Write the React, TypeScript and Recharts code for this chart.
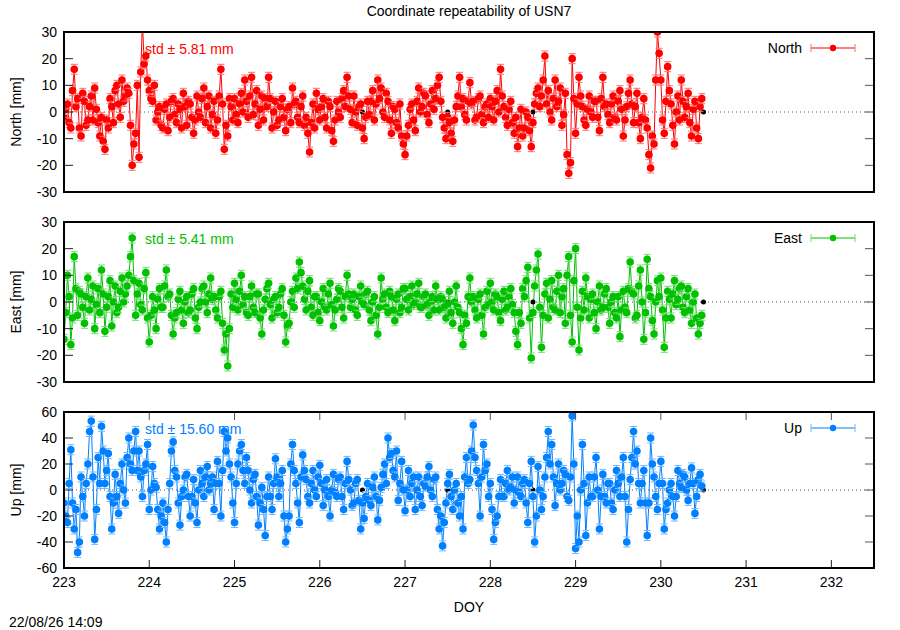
import React from 'react';
import { LineChart, Line, XAxis, YAxis, ReferenceLine } from 'recharts';

const FONT = '"Liberation Sans", Arial, Helvetica, sans-serif';
const PLOT_LEFT = 64;
const PLOT_RIGHT = 874;

// sampling of the solution epochs (day of year)
const START_DOY = 223;
const EPOCH_STEP = 0.02;

// one row per day of year, mm
const northValues = [
  -2, 1, 3, -4, -6, 8, 16, 2, 5, -6, -9, 7, 4, -5, -3, 2, 6, -3, 9, 1, -4, -9, -2, -11, -14, -3, -6, 5, 2, -4, 8, 10, 3, -2, 12, 4, 6, 9, 7, -5, -20, -12, -8, 10, -17, 15, 34, 18, 21, 12,
  8, 5, 4, 10, -3, 0, 2, -5, -6, 1, 3, -7, -2, 4, 5, -1, -4, 3, 1, -6, 7, 2, -5, 4, 3, -2, -8, -3, 6, 0, -2, 5, 9, -4, 2, 6, -6, -1, 4, -8, -3, 6, 16, 3, -14, -5, -9, 5, 2, -3,
  5, -1, -4, 3, 7, 0, 12, 4, -2, 6, 13, -1, 3, 8, -5, 1, 6, -3, 5, 2, 13, 5, -6, 0, 4, -5, -3, 2, 5, -2, -7, 1, 2, -4, 9, 3, 4, -2, -4, 2, 6, -5, -2, -8, -15, -4, 3, -6, 7, 1,
  -3, 2, 5, -2, -6, 4, 2, -7, -11, -3, 4, 0, -2, 5, 8, 2, 13, 6, 1, -4, 6, 0, -5, 2, 3, -6, -10, -2, 4, -1, 4, 8, -3, 3, 12, 5, 9, 0, -2, 7, 4, -3, -8, 2, 1, -4, -6, 3, -9, -12,
  -16, -9, -5, 1, 3, -3, -7, 4, 9, 0, 2, 7, 6, -1, -4, 3, 8, 1, 5, 10, 13, 4, -2, -6, -10, -2, -4, -8, -11, -3, 2, 6, 13, 2, 5, -1, -3, 4, 11, 3, 4, -3, -2, 5, 6, -1, -4, 2, 3, -2,
  5, 2, -3, 4, 8, 0, 16, 6, 2, -2, -5, 1, 4, -4, -8, -2, -13, -6, 1, -9, -6, 0, -2, -7, -13, -4, 3, 7, 9, 2, 6, 12, 21, 3, 8, 0, -3, 5, 12, 2, 4, 9, -5, -1, 7, -16, -23, -19, 20, 5,
  -8, 3, 13, 6, 2, -3, -5, 1, 6, 0, -2, 4, 4, -2, -7, 5, 13, 2, 3, -1, -4, 3, 6, -2, -3, 4, 8, 1, -9, -3, 2, 7, 12, 3, -4, 2, 7, -4, -10, -2, 5, -3, -6, -16, -21, -9, -12, 12, 30, 22,
  12, -3, -8, 4, 17, 8, 3, -5, -12, 0, 6, -3, 12, 4, -2, 2, 7, -4, -9, 1, 4, -6, -10, 2, 5,
];

const eastValues = [
  -14, -4, 10, 2, -16, -6, 17, 5, -5, 4, 3, -2, -8, 2, 9, -3, 1, 6, -10, -1, 5, -4, 12, 3, -11, -2, 2, 8, -9, 0, 6, -4, -2, 4, 9, 0, 3, 6, 10, 17, 24, 8, -5, 3, 7, -1, -3, 5, 11, -6,
  -15, -5, 2, -3, -10, 1, 5, -2, -2, 6, 12, 2, 3, -5, -12, -6, -4, 1, 4, -3, -8, 0, 2, -4, -3, 3, 5, -6, -10, -2, 0, 5, 6, 0, -4, 3, 9, 1, 2, -3, -6, 2, 4, -8, -18, -12, -24, -10, 3, -2,
  7, 1, -3, 4, 10, -1, 2, -4, -5, 2, 6, -2, -4, 3, 3, -6, -12, -3, 1, 5, 7, -1, -6, 1, 2, -4, -2, 3, 5, -5, -15, -9, -8, 0, 4, -2, 9, 5, 15, 11, 6, 1, -3, 4, 8, -2, -5, 2, 2, -4,
  -7, 0, 5, -2, -3, 3, 7, -1, -9, -3, 1, 5, 4, -2, -6, 2, 10, 3, -2, 1, 3, -3, -5, 2, 6, 0, -1, 3, 4, -3, -7, 0, 2, -5, -12, -2, 9, 1, 3, -2, -4, 4, 2, -3, -7, 1, 3, -4, -2, 5,
  5, 1, -3, 2, 6, -1, 0, 3, 7, -2, -2, 2, 3, -1, -5, 0, 2, -3, 6, 1, -3, 2, 1, -2, -6, -1, 4, -4, -8, 0, 6, -2, -4, -10, -16, -5, -8, 2, 9, 0, 2, -3, -6, 1, 3, -5, -12, -2, 4, -1,
  7, 0, -3, 3, 2, -4, -7, 1, 4, -3, -2, 2, 5, -1, -4, -11, -16, -4, -8, 5, 2, 8, 13, -6, -21, -4, 6, 12, 18, -2, -17, -5, 3, 7, -6, 1, 8, -2, -3, 4, 10, -4, 2, 5, -8, 10, 17, -5, -15, 8,
  20, -2, -18, -6, 4, -3, 9, 2, -6, 1, 3, -4, -10, 0, 6, -3, -2, 3, 5, -2, -8, 0, 2, -4, -6, 2, -13, -3, 4, -2, -4, 5, 15, 4, 3, -6, -5, 6, 12, 0, -14, -4, 16, 5, 2, -7, -12, 0, 8, 2,
  9, -3, -17, -6, 4, 1, -6, 3, 8, -1, 1, 5, 6, -2, -4, 2, 5, -3, -8, 0, 3, -6, -12, -8, -5,
];

const upValues = [
  -10, -20, -25, 5, 31, -10, -30, -15, -48, -40, 10, -5, -20, 5, 20, 45, 53, 10, -38, -15, 25, 5, 49, 30, 5, 15, 28, -5, -30, -10, 12, -5, -18, 5, 20, 0, -10, 25, 40, 20, 15, 30, 45, 15, 30, 10, -5, 15, 20, 35,
  -15, 0, 18, 5, 2, -15, -30, -20, -10, -25, -40, -15, 5, 30, 37, 15, 10, -10, -27, -5, 0, 10, 12, -5, -20, -5, 8, -10, -25, 0, 15, 5, -5, 10, 18, 0, 5, 10, -15, 5, 22, 5, -20, 15, 45, 30, 40, 20, 10, -10,
  -25, 5, 20, 30, 35, 15, 5, 25, 15, 0, -10, 8, 12, -5, -27, -10, 2, -15, -35, -5, 10, -5, -15, 5, 24, 10, -5, 5, 15, -20, -40, -30, -20, 20, 35, 15, 5, -10, -25, 10, 27, 15, 8, -5, -10, 5, 15, 0, -5, 10,
  19, 5, -12, 0, 8, -5, -20, 0, 12, -2, -5, 8, 10, -5, -15, 5, 22, 8, 0, -12, -10, 5, 8, -8, -30, -10, -22, -5, 5, -8, -12, 2, 10, -5, -23, -8, 2, 12, 20, 5, 40, 25, 28, 15, 10, 30, -8, 5, 22, 0,
  -16, 0, 15, -5, 5, 10, -15, 0, 10, -5, -12, 5, 3, 10, 18, 0, -5, 8, 10, -15, -30, -20, -43, -25, -10, 5, 12, -5, -15, 0, 5, -10, -20, -5, -30, 10, 25, 5, 8, 30, 50, 25, 15, 5, -20, 10, 35, 15, 20, -5,
  5, -15, -38, -25, -20, -5, 8, -5, -5, 5, 15, 0, 2, 10, -10, 0, 10, -2, -5, 5, 8, -10, -25, 5, 22, -5, -40, -20, 18, 0, -15, -5, 10, 25, 45, 20, 35, 10, -12, 5, 20, 0, 5, 15, 12, -5, -8, 10, 57, 20,
  -45, -20, -40, 0, 35, 5, -35, -10, 10, -5, -5, 10, 25, 0, -30, -5, 12, -5, -10, 5, 5, -10, -15, 0, 15, 5, -5, 10, 25, -5, -40, -15, 8, 25, 45, 20, 30, 5, -10, 5, 15, -10, -35, -10, 40, 20, 10, -5, -15, 5,
  22, 5, -30, -15, -10, 0, 5, -5, -20, -5, 15, 5, 2, 12, 10, 0, -8, 5, 17, 5, -18, -5, 8, 12, 3,
];

// reference (black) points that show through the series
const biasDays = [226.5, 227.5, 228.5, 230.5];
const biasValues = [0, 0, 0, 0];

const doyTicks = [223, 224, 225, 226, 227, 228, 229, 230, 231, 232];
const neTicks = [-30, -20, -10, 0, 10, 20, 30];
const upTicks = [-60, -40, -20, 0, 20, 40, 60];

const toRows = (values: number[]) =>
  values.map((v, i) => ({ doy: Math.round((START_DOY + i * EPOCH_STEP) * 100) / 100, v }));

const makeDot = (color: string, light: string) => (p: any) => {
  const { cx, cy, index } = p;
  if (cx == null || cy == null) return <g key={`n${index}`} />;
  return (
    <g key={`d${index}`}>
      <line x1={cx} x2={cx} y1={cy - 5} y2={cy + 5} stroke={light} />
      <line x1={cx - 3.5} x2={cx + 3.5} y1={cy - 5} y2={cy - 5} stroke={light} />
      <line x1={cx - 3.5} x2={cx + 3.5} y1={cy + 5} y2={cy + 5} stroke={light} />
      <circle cx={cx} cy={cy} r={3.8} fill={color} />
    </g>
  );
};

type PanelProps = {
  top: number;
  plotHeight: number;
  values: number[];
  color: string;
  light: string;
  name: string;
  yLabel: string;
  std: string;
  ticks: number[];
  showX?: boolean;
};

function Panel({ top, plotHeight, values, color, light, name, yLabel, std, ticks, showX }: PanelProps) {
  const rows = toRows(values);
  const bias = biasDays.map((d, i) => ({ doy: d, v: biasValues[i] }));
  const lo = ticks[0];
  const hi = ticks[ticks.length - 1];
  const plotTop = 32;
  const plotBottom = plotTop + plotHeight;
  const chartHeight = plotBottom + (showX ? 50 : 8);

  const yTick = (p: any) => {
    const v = p.payload.value;
    const edge = v === lo || v === hi;
    return (
      <g>
        <text x={57} y={p.y} textAnchor="end" dominantBaseline="central" fontSize={14} fill="#000">
          {v}
        </text>
        {!edge && <line x1={PLOT_LEFT} x2={PLOT_LEFT + 9} y1={p.y} y2={p.y} stroke="#222" />}
        {!edge && <line x1={PLOT_RIGHT - 9} x2={PLOT_RIGHT} y1={p.y} y2={p.y} stroke="#555" />}
      </g>
    );
  };

  const xTick = (p: any) => (
    <g>
      <line x1={p.x} x2={p.x} y1={plotBottom} y2={plotBottom - 8} stroke="#222" />
      <line x1={p.x} x2={p.x} y1={plotTop} y2={plotTop + 8} stroke="#555" />
      <text x={p.x} y={plotBottom + 14} textAnchor="middle" dominantBaseline="central" fontSize={14} fill="#000">
        {p.payload.value}
      </text>
    </g>
  );

  return (
    <div style={{ position: 'absolute', left: 0, top, width: 900, height: chartHeight }}>
      <LineChart width={900} height={chartHeight} margin={{ top: plotTop, right: 900 - PLOT_RIGHT, bottom: showX ? 0 : 8, left: 0 }}>
        <XAxis
          dataKey="doy"
          type="number"
          domain={[223, 232.5]}
          ticks={doyTicks}
          interval={0}
          allowDataOverflow
          hide={!showX}
          height={50}
          tickLine={false}
          axisLine={false}
          tickSize={0}
          tick={xTick}
          label={{ value: 'DOY', position: 'insideBottom', offset: 6, fill: '#000', fontSize: 14 }}
        />
        <YAxis
          type="number"
          domain={[lo, hi]}
          ticks={ticks}
          interval={0}
          allowDataOverflow
          width={PLOT_LEFT}
          tickLine={false}
          axisLine={false}
          tick={yTick}
        />
        <ReferenceLine y={0} stroke="#555" strokeDasharray="1 3" />
        <Line data={bias} dataKey="v" stroke="none" dot={{ r: 2.5, fill: '#000', stroke: 'none' }} isAnimationActive={false} />
        <Line data={rows} dataKey="v" stroke={color} strokeWidth={1} dot={makeDot(color, light)} isAnimationActive={false} />
      </LineChart>

      <div
        style={{
          position: 'absolute',
          left: PLOT_LEFT - 1,
          top: plotTop - 1,
          width: PLOT_RIGHT - PLOT_LEFT + 2,
          height: plotHeight + 2,
          border: '2px solid #000',
          boxSizing: 'border-box',
          pointerEvents: 'none',
        }}
      />

      <div
        style={{
          position: 'absolute',
          left: 16 - 60,
          top: plotTop + plotHeight / 2 - 9,
          width: 120,
          height: 18,
          lineHeight: '18px',
          textAlign: 'center',
          fontSize: 14,
          transform: 'rotate(-90deg)',
        }}
      >
        {yLabel}
      </div>

      <div style={{ position: 'absolute', left: 145, top: 40, height: 18, lineHeight: '18px', fontSize: 14, color, whiteSpace: 'nowrap' }}>
        {std}
      </div>

      <div style={{ position: 'absolute', left: 702, top: 39, width: 100, height: 18, lineHeight: '18px', fontSize: 14, textAlign: 'right' }}>
        {name}
      </div>
      <svg style={{ position: 'absolute', left: 808, top: 42 }} width={50} height={12}>
        <line x1={3} x2={47} y1={6} y2={6} stroke={color} />
        <line x1={3} x2={3} y1={2} y2={10} stroke={light} />
        <line x1={47} x2={47} y1={2} y2={10} stroke={light} />
        <circle cx={25} cy={6} r={3.2} fill={color} />
      </svg>
    </div>
  );
}

export default function App() {
  return (
    <div style={{ position: 'absolute', left: 0, top: 0, width: 900, height: 630, background: '#fff', fontFamily: FONT, color: '#000' }}>
      <div style={{ position: 'absolute', left: 269, top: 2, width: 400, textAlign: 'center', fontSize: 14, lineHeight: '18px' }}>
        Coordinate repeatability of USN7
      </div>
      <Panel top={0} plotHeight={160} values={northValues} color="#ff0000" light="#ff7070" name="North" yLabel="North [mm]" std="std ± 5.81 mm" ticks={neTicks} />
      <Panel top={190} plotHeight={160} values={eastValues} color="#00c000" light="#70dd70" name="East" yLabel="East [mm]" std="std ± 5.41 mm" ticks={neTicks} />
      <Panel top={380} plotHeight={156} values={upValues} color="#0080ff" light="#70b8ff" name="Up" yLabel="Up [mm]" std="std ± 15.60 mm" ticks={upTicks} showX />
      <div style={{ position: 'absolute', left: 9, top: 613, fontSize: 14, lineHeight: '18px' }}>22/08/26 14:09</div>
    </div>
  );
}
